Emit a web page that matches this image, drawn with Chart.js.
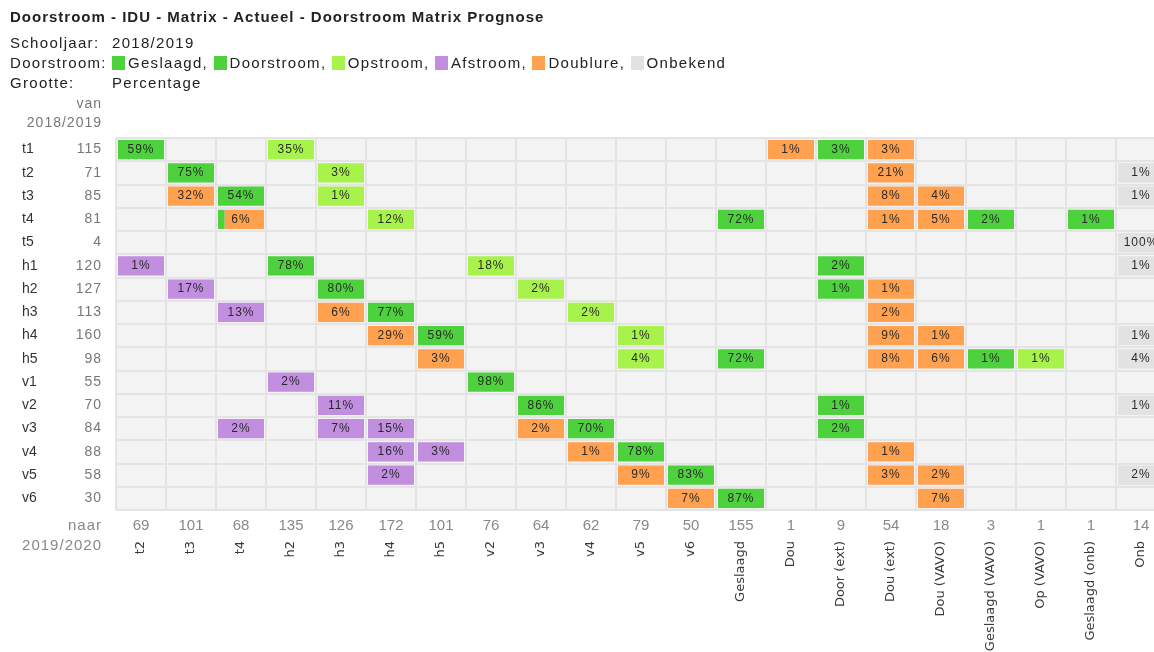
<!DOCTYPE html>
<html>
<head>
<meta charset="utf-8">
<script src="https://cdn.jsdelivr.net/npm/chart.js@4.4.0/dist/chart.umd.min.js"></script>
<style>
  body { margin:0; background:#fff; overflow:hidden; width:1154px; height:652px; position:relative;
         font-family:"Liberation Sans", Arial, sans-serif; }
  #wrap { position:absolute; left:0; top:0; width:1170px; height:652px; }
  #chart { display:block; width:1170px; height:652px; }
  .line { position:absolute; left:10px; font-size:15px; letter-spacing:1.3px; color:#222; white-space:nowrap; }
  .line .val { position:absolute; left:102px; top:0; white-space:nowrap; }
  .title { font-weight:bold; font-size:15px; letter-spacing:1px; top:8px; }
  .sq { display:inline-block; width:13px; height:14px; vertical-align:-2px; margin-right:3px; }
</style>
</head>
<body>
<div id="wrap"><canvas id="chart" width="1170" height="652"></canvas></div>
<div class="line title">Doorstroom - IDU - Matrix - Actueel - Doorstroom Matrix Prognose</div>
<div class="line" style="top:34px">Schooljaar:<span class="val">2018/2019</span></div>
<div class="line" style="top:54px">Doorstroom:<span class="val" id="legend"></span></div>
<div class="line" style="top:74px">Grootte:<span class="val">Percentage</span></div>
<script>
// rijen (van 2018/2019) en kolommen (naar 2019/2020)
var rows = ['t1','t2','t3','t4','t5','h1','h2','h3','h4','h5','v1','v2','v3','v4','v5','v6'];
var rowTotals = [115,71,85,81,4,120,127,113,160,98,55,70,84,88,58,30];
var cols = ['t2','t3','t4','h2','h3','h4','h5','v2','v3','v4','v5','v6','Geslaagd','Dou','Door (ext)',
            'Dou (ext)','Dou (VAVO)','Geslaagd (VAVO)','Op (VAVO)','Geslaagd (onb)','Onb'];
var colTotals = [69,101,68,135,126,172,101,76,64,62,79,50,155,1,9,54,18,3,1,1,14];

var categories = ['Geslaagd','Doorstroom','Opstroom','Afstroom','Doublure','Onbekend'];
var categoryColors = ['#4dd23d','#4dd23d','#a8f24c','#c18ee0','#ffa14e','#e2e2e2'];

// [van, naar, percentage, soort]
var cells = [
  ['t1','t2',59,'Doorstroom'], ['t1','h2',35,'Opstroom'], ['t1','Dou',1,'Doublure'], ['t1','Door (ext)',3,'Doorstroom'], ['t1','Dou (ext)',3,'Doublure'],
  ['t2','t3',75,'Doorstroom'], ['t2','h3',3,'Opstroom'], ['t2','Dou (ext)',21,'Doublure'], ['t2','Onb',1,'Onbekend'],
  ['t3','t3',32,'Doublure'], ['t3','t4',54,'Doorstroom'], ['t3','h3',1,'Opstroom'], ['t3','Dou (ext)',8,'Doublure'], ['t3','Dou (VAVO)',4,'Doublure'], ['t3','Onb',1,'Onbekend'],
  ['t4','t4',1,'Doorstroom'], ['t4','t4',6,'Doublure'], ['t4','h4',12,'Opstroom'], ['t4','Geslaagd',72,'Geslaagd'], ['t4','Dou (ext)',1,'Doublure'], ['t4','Dou (VAVO)',5,'Doublure'], ['t4','Geslaagd (VAVO)',2,'Geslaagd'], ['t4','Geslaagd (onb)',1,'Geslaagd'],
  ['t5','Onb',100,'Onbekend'],
  ['h1','t2',1,'Afstroom'], ['h1','h2',78,'Doorstroom'], ['h1','v2',18,'Opstroom'], ['h1','Door (ext)',2,'Doorstroom'], ['h1','Onb',1,'Onbekend'],
  ['h2','t3',17,'Afstroom'], ['h2','h3',80,'Doorstroom'], ['h2','v3',2,'Opstroom'], ['h2','Door (ext)',1,'Doorstroom'], ['h2','Dou (ext)',1,'Doublure'],
  ['h3','t4',13,'Afstroom'], ['h3','h3',6,'Doublure'], ['h3','h4',77,'Doorstroom'], ['h3','v4',2,'Opstroom'], ['h3','Dou (ext)',2,'Doublure'],
  ['h4','h4',29,'Doublure'], ['h4','h5',59,'Doorstroom'], ['h4','v5',1,'Opstroom'], ['h4','Dou (ext)',9,'Doublure'], ['h4','Dou (VAVO)',1,'Doublure'], ['h4','Onb',1,'Onbekend'],
  ['h5','h5',3,'Doublure'], ['h5','v5',4,'Opstroom'], ['h5','Geslaagd',72,'Geslaagd'], ['h5','Dou (ext)',8,'Doublure'], ['h5','Dou (VAVO)',6,'Doublure'], ['h5','Geslaagd (VAVO)',1,'Geslaagd'], ['h5','Op (VAVO)',1,'Opstroom'], ['h5','Onb',4,'Onbekend'],
  ['v1','h2',2,'Afstroom'], ['v1','v2',98,'Doorstroom'],
  ['v2','h3',11,'Afstroom'], ['v2','v3',86,'Doorstroom'], ['v2','Door (ext)',1,'Doorstroom'], ['v2','Onb',1,'Onbekend'],
  ['v3','t4',2,'Afstroom'], ['v3','h3',7,'Afstroom'], ['v3','h4',15,'Afstroom'], ['v3','v3',2,'Doublure'], ['v3','v4',70,'Doorstroom'], ['v3','Door (ext)',2,'Doorstroom'],
  ['v4','h4',16,'Afstroom'], ['v4','h5',3,'Afstroom'], ['v4','v4',1,'Doublure'], ['v4','v5',78,'Doorstroom'], ['v4','Dou (ext)',1,'Doublure'],
  ['v5','h4',2,'Afstroom'], ['v5','v5',9,'Doublure'], ['v5','v6',83,'Doorstroom'], ['v5','Dou (ext)',3,'Doublure'], ['v5','Dou (VAVO)',2,'Doublure'], ['v5','Onb',2,'Onbekend'],
  ['v6','v6',7,'Doublure'], ['v6','Geslaagd',87,'Geslaagd'], ['v6','Dou (VAVO)',7,'Doublure']
];

// legenda in de kop
var legend = document.getElementById('legend');
categories.forEach(function(c, i){
  legend.innerHTML += '<span class="sq" style="background:' + categoryColors[i] + '"></span>' + c +
                      (i < categories.length - 1 ? ', ' : '');
});

// cellen groeperen (een cel kan uit meerdere soorten bestaan)
var groups = {};
cells.forEach(function(c){
  var key = c[0] + '|' + c[1];
  if (!groups[key]) groups[key] = [];
  groups[key].push(c);
});

var inset = 0.04;
var datasets = categories.map(function(cat, i){
  return { label: cat, data: [], backgroundColor: categoryColors[i] };
});
Object.keys(groups).forEach(function(key){
  var g = groups[key];
  var total = 0;
  g.forEach(function(c){ total += c[2]; });
  var col = cols.indexOf(g[0][1]);
  var cum = 0;
  g.forEach(function(c){
    var x0 = col + inset + (1 - 2 * inset) * cum / total;
    cum += c[2];
    var x1 = col + inset + (1 - 2 * inset) * cum / total;
    datasets[categories.indexOf(c[3])].data.push({ y: c[0], x: [x0, x1] });
  });
});
datasets.forEach(function(d){
  d.grouped = false;
  d.barPercentage = 0.83;
  d.categoryPercentage = 1;
  d.borderWidth = 0;
  d.borderSkipped = false;
});

var labelsPlugin = {
  id: 'matrixLabels',
  beforeDraw: function(chart){
    var a = chart.chartArea, ctx = chart.ctx;
    ctx.save();
    ctx.fillStyle = '#f3f3f3';
    ctx.fillRect(a.left, a.top, a.right - a.left, a.bottom - a.top);
    ctx.restore();
  },
  afterDraw: function(chart){
    var ctx = chart.ctx, xs = chart.scales.x, ys = chart.scales.y;
    ctx.save();
    ctx.textBaseline = 'middle';
    // percentages
    ctx.font = '12px "Liberation Sans"';
    ctx.letterSpacing = '1px';
    ctx.fillStyle = '#2a2a2a';
    ctx.textAlign = 'center';
    Object.keys(groups).forEach(function(key){
      var g = groups[key], best = g[0];
      g.forEach(function(c){ if (c[2] > best[2]) best = c; });
      var col = cols.indexOf(best[1]);
      ctx.fillText(best[2] + '%', xs.getPixelForValue(col + 0.5), ys.getPixelForValue(rows.indexOf(best[0])));
    });
    // aantallen per rij
    ctx.font = '14px "Liberation Sans"';
    ctx.fillStyle = '#777';
    ctx.textAlign = 'right';
    rows.forEach(function(r, i){
      ctx.fillText(String(rowTotals[i]), 102, ys.getPixelForValue(i));
    });
    ctx.fillText('van', 102, 104);
    ctx.fillText('2018/2019', 102, 123);
    // aantallen per kolom
    ctx.font = '15px "Liberation Sans"';
    ctx.fillStyle = '#888';
    ctx.fillText('naar', 102, 526);
    ctx.fillText('2019/2020', 102, 546);
    ctx.letterSpacing = '0px';
    ctx.textAlign = 'center';
    cols.forEach(function(c, i){
      ctx.fillText(String(colTotals[i]), xs.getPixelForValue(i + 0.5), 526);
    });
    ctx.restore();
  }
};

new Chart(document.getElementById('chart'), {
  type: 'bar',
  data: { labels: rows, datasets: datasets },
  options: {
    indexAxis: 'y',
    responsive: false,
    animation: false,
    events: [],
    layout: { padding: { left: 22, top: 138, right: 4, bottom: 0 } },
    plugins: { legend: { display: false }, tooltip: { enabled: false } },
    scales: {
      x: {
        type: 'linear', min: 0, max: cols.length, position: 'bottom',
        afterBuildTicks: function(s){
          s.ticks = [];
          for (var i = 0; i <= cols.length; i++) s.ticks.push({ value: i });
        },
        afterFit: function(s){ s.height = 0; s.paddingLeft = 0; s.paddingRight = 0; },
        grid: { color: '#e4e4e4', lineWidth: 2, drawTicks: false },
        border: { display: false },
        ticks: { display: false }
      },
      xl: {
        type: 'category', labels: cols, position: 'bottom', offset: true,
        afterFit: function(s){ s.height = 142; s.paddingLeft = 0; s.paddingRight = 0; },
        grid: { display: false, drawTicks: false },
        border: { display: false },
        ticks: { autoSkip: false, maxRotation: 90, minRotation: 90, padding: 31, color: '#3a3a3a',
                 font: { family: 'DejaVu Sans', size: 13 } }
      },
      y: {
        type: 'category', offset: true,
        afterFit: function(s){ s.width = 94; s.paddingTop = 0; s.paddingBottom = 0; },
        grid: { offset: true, color: '#e4e4e4', lineWidth: 2, drawTicks: false },
        border: { display: false },
        ticks: { crossAlign: 'far', color: '#333', padding: 0, font: { family: 'Liberation Sans', size: 14 } }
      }
    }
  },
  plugins: [labelsPlugin]
});
</script>
</body>
</html>
